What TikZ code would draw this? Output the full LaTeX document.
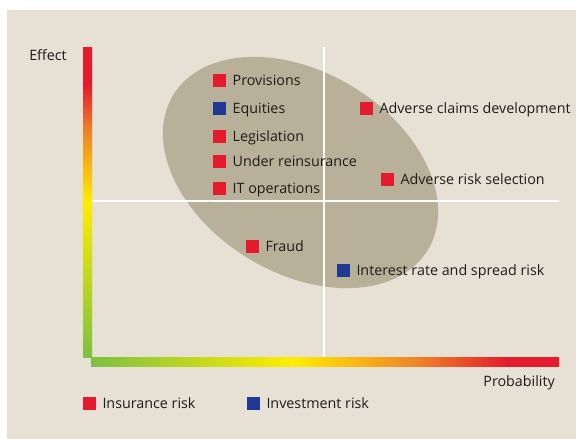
\documentclass[tikz,border=0pt]{standalone}
\usepackage{fontspec}
\setmainfont{Open Sans}
\usetikzlibrary{calc}
\definecolor{bg}{RGB}{230,224,213}
\definecolor{ellcol}{RGB}{184,176,153}
\definecolor{insred}{RGB}{227,27,44}
\definecolor{invblue}{RGB}{31,58,147}
\definecolor{txt}{RGB}{30,27,28}
\definecolor{bGreen}{RGB}{125,192,66}
\definecolor{bYellow}{RGB}{255,237,0}
\definecolor{bOrange}{RGB}{239,130,40}
\definecolor{bRed}{RGB}{227,27,44}
\pgfdeclareverticalshading{vbar}{100bp}{color(0bp)=(bGreen); color(25bp)=(bGreen); color(50bp)=(bYellow); color(61.5bp)=(bOrange); color(69bp)=(bRed); color(75bp)=(bRed); color(100bp)=(bRed)}
\pgfdeclarehorizontalshading{hbar}{100bp}{color(0bp)=(bGreen); color(25bp)=(bGreen); color(46.5bp)=(bYellow); color(60bp)=(bOrange); color(69.5bp)=(bRed); color(75bp)=(bRed); color(100bp)=(bRed)}
\tikzset{
  sqr/.style={minimum size=13pt, inner sep=0pt, outer sep=0pt, draw=none},
  ins/.style={sqr, fill=insred},
  inv/.style={sqr, fill=invblue},
  lbl/.style={anchor=base west, inner sep=0pt, text=txt, font=\fontsize{14.3}{16}\selectfont},
  axlbl/.style={inner sep=0pt, text=txt, font=\fontsize{14.3}{16}\selectfont},
  grid/.style={draw=white, line width=2pt}
}
\begin{document}
\begin{tikzpicture}[x=1pt,y=-1pt]
\useasboundingbox (0,0) rectangle (576,439);
\fill[bg] (7,10) rectangle (576,439);
\fill[ellcol] (300.5,172.5) ellipse [x radius=149, y radius=100.5, rotate=-31.3];
% grid lines
\coordinate (hl) at (92,201);
\coordinate (hr) at (559,201);
\coordinate (vt) at (324,47);
\coordinate (vb) at (324,357);
\draw[grid] (hl) -- (hr);
\draw[grid] (vt) -- (vb);
% axes
\shade[shading=vbar] (83,47) rectangle (92,357.5);
\shade[shading=hbar] (91,357) rectangle (559,366);
\node[axlbl, anchor=base east] (effect) at (67,60) {Effect};
\node[axlbl, anchor=base east] (prob) at (555,386.5) {Probability};
% items
\node[ins] (s1) at (219.7,80.3) {};
\node[lbl] (t1) at ($(s1.east)+(6.3,5)$) {Provisions};
\node[inv] (s2) at (219.7,108.3) {};
\node[lbl] (t2) at ($(s2.east)+(6.3,5)$) {Equities};
\node[ins] (s3) at (219.7,136.3) {};
\node[lbl] (t3) at ($(s3.east)+(6.3,5)$) {Legislation};
\node[ins] (s4) at (219.7,161.7) {};
\node[lbl] (t4) at ($(s4.east)+(6.3,5)$) {Under reinsurance};
\node[ins] (s5) at (219.7,188.3) {};
\node[lbl] (t5) at ($(s5.east)+(6.3,5)$) {IT operations};
\node[ins] (s6) at (252.5,246.3) {};
\node[lbl] (t6) at ($(s6.east)+(6.3,5)$) {Fraud};
\node[inv] (s7) at (343.5,270.3) {};
\node[lbl] (t7) at ($(s7.east)+(6.3,5)$) {Interest rate and spread risk};
\node[ins] (s8) at (366.5,108.7) {};
\node[lbl] (t8) at ($(s8.east)+(6.3,5)$) {Adverse claims development};
\node[ins] (s9) at (387.5,179.7) {};
\node[lbl] (t9) at ($(s9.east)+(6.3,5)$) {Adverse risk selection};
% legend
\node[ins] (l1) at (89.5,403.3) {};
\node[lbl] (lt1) at ($(l1.east)+(6.3,5.5)$) {Insurance risk};
\node[inv] (l2) at (253.5,403.3) {};
\node[lbl] (lt2) at ($(l2.east)+(6.3,5.5)$) {Investment risk};
\end{tikzpicture}
\end{document}
